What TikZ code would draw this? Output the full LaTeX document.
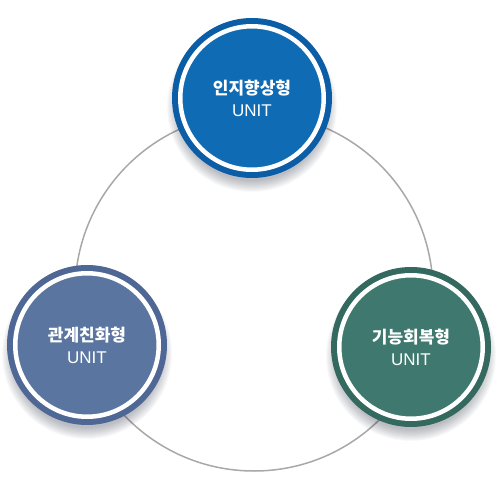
\documentclass[tikz,border=0pt]{standalone}
\usepackage{fontspec}
\setmainfont{Liberation Sans}
\newfontfamily\kor{Noto Sans CJK KR}
\usetikzlibrary{calc}

\definecolor{cogRing}{HTML}{0B5DA6}
\definecolor{cogCore}{HTML}{0F6BB3}
\definecolor{relRing}{HTML}{4E6795}
\definecolor{relCore}{HTML}{5A76A0}
\definecolor{funRing}{HTML}{33695E}
\definecolor{funCore}{HTML}{3E786E}
\definecolor{loopGray}{HTML}{A8A8A8}
\definecolor{shadeGray}{HTML}{2A3040}

\begin{document}
\begin{tikzpicture}[x=1pt, y=-1pt,
  unit/.style={circle, draw=white, line width=4.5pt, inner sep=0pt,
    minimum size=143.5pt, text=white, align=center,
    font=\fontsize{17}{22}\selectfont}]

\useasboundingbox (0,0) rectangle (500,500);

% ----------------------------
% PARAMETERS
% ----------------------------
\def\Rout{80pt}    % outer ring radius
\def\Rloop{179pt}  % gray loop radius

% ----------------------------
% GRAY LOOP BEHIND THE UNITS
% ----------------------------
\coordinate (M) at (254,292);
\draw[loopGray, line width=1.5pt] (M) circle (\Rloop);

% ----------------------------
% UNITS (shadow, ring, core)
% ----------------------------
\foreach \nm/\px/\py/\ring/\core/\txt in {
    cog/252/98/cogRing/cogCore/인지향상형,
    rel/87/345/relRing/relCore/관계친화형,
    fun/411/347/funRing/funCore/기능회복형}{
  % soft drop shadow
  \foreach \k in {0,...,11}
    \fill[shadeGray, opacity=0.03] (\px,\py+9) circle ({\Rout+5pt-\k pt});
  % outer ring
  \fill[\ring] (\px,\py) circle (\Rout);
  % core with white ring
  \node[unit, fill=\core] (\nm) at (\px,\py) {{\kor\bfseries \txt}\\UNIT};
}

\end{tikzpicture}
\end{document}
